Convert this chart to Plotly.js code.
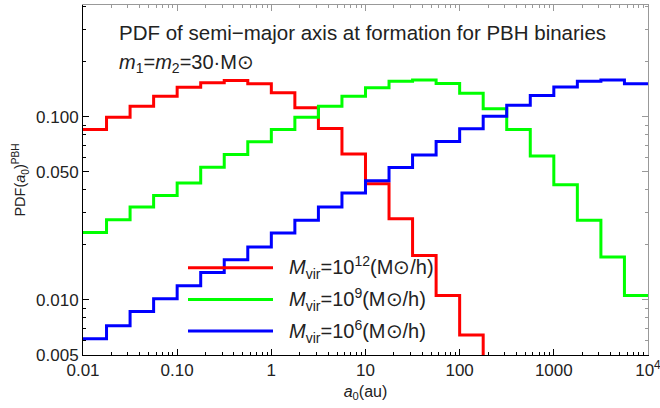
<!DOCTYPE html>
<html>
<head>
<meta charset="utf-8">
<script src="https://cdn.plot.ly/plotly-3.0.1.min.js"></script>
<style>html,body{margin:0;padding:0;background:#fff;}#chart{width:660px;height:408px;}</style>
</head>
<body>
<div id="chart"></div>
<script>
// Bin edges of a0 (au), quarter-decade bins
const binEdges = [0.01, 0.01778, 0.03162, 0.05623, 0.1, 0.1778, 0.3162, 0.5623, 1, 1.778, 3.162, 5.623,
  10, 17.78, 31.62, 56.23, 100, 177.8, 316.2, 562.3, 1000, 1778, 3162, 5623, 10000];

// PDF values per bin
const pdfMvir12 = [0.0852, 0.0995, 0.1143, 0.1296, 0.1452, 0.1535, 0.158, 0.1516, 0.1353, 0.112, 0.0863,
  0.0626, 0.0431, 0.0277, 0.01748, 0.01056, 0.00643, 0.003];
const pdfMvir9 = [0.02336, 0.0274, 0.0322, 0.0372, 0.0435, 0.053, 0.0622, 0.073, 0.0852, 0.0995, 0.1143,
  0.1296, 0.1441, 0.1566, 0.1586, 0.1518, 0.1345, 0.1106, 0.0852, 0.061, 0.0426, 0.0272, 0.01713, 0.01056];
const pdfMvir6 = [0.00614, 0.00721, 0.00863, 0.01013, 0.01193, 0.0141, 0.01655, 0.01943, 0.02318, 0.0272,
  0.0322, 0.0384, 0.0448, 0.0528, 0.0618, 0.0733, 0.0861, 0.1008, 0.1156, 0.1308, 0.1456, 0.1564, 0.1586, 0.1516];

const seriesNames = ['<i>M</i><sub>vir</sub>=10<sup>12</sup>(M⊙/h)',
                     '<i>M</i><sub>vir</sub>=10<sup>9</sup>(M⊙/h)',
                     '<i>M</i><sub>vir</sub>=10<sup>6</sup>(M⊙/h)'];
const seriesColors = ['#ff0000', '#00ff00', '#0000ff'];

const xTickVals = [0.01, 0.1, 1, 10, 100, 1000, 10000];
const xTickText = ['0.01', '0.10', '1', '10', '100', '1000', '10<sup>4</sup>'];
const yTickVals = [0.005, 0.01, 0.05, 0.1];
const yTickText = ['0.005', '0.010', '0.050', '0.100'];

const xMinor = [];
for (let d = -2; d < 4; d++) for (let m = 2; m <= 9; m++) xMinor.push(m * Math.pow(10, d));
const yMinor = [0.006, 0.007, 0.008, 0.009, 0.02, 0.03, 0.04, 0.06, 0.07, 0.08, 0.09, 0.2, 0.3, 0.4];

function stepTrace(vals, color, name) {
  const n = vals.length;
  return {
    x: binEdges.slice(0, n + 1),
    y: vals.concat([vals[n - 1]]),
    type: 'scatter', mode: 'lines', name: name,
    line: {shape: 'hv', color: color, width: 3},
    showlegend: false, hoverinfo: 'x+y'
  };
}

const traces = [
  stepTrace(pdfMvir12, seriesColors[0], seriesNames[0]),
  stepTrace(pdfMvir9, seriesColors[1], seriesNames[1]),
  stepTrace(pdfMvir6, seriesColors[2], seriesNames[2]),
  {x: [null], y: [null], xaxis: 'x2', yaxis: 'y2', type: 'scatter', mode: 'lines', showlegend: false, hoverinfo: 'skip'}
];

const FONT = 'Liberation Sans, Arial, sans-serif';
const xr = [-2, 4.0002];
const yr = [Math.log10(0.005) - 0.0002, Math.log10(0.408)];

const axisCommon = {
  type: 'log', showgrid: false, zeroline: false, showline: true, linewidth: 1,
  ticks: 'inside', ticklen: 6, tickwidth: 1, tickmode: 'array'
};

const layout = {
  width: 660, height: 408,
  margin: {l: 83, r: 12, t: 5, b: 53},
  paper_bgcolor: '#fff', plot_bgcolor: '#fff',
  font: {family: FONT, color: '#222'},
  xaxis: Object.assign({}, axisCommon, {
    range: xr, linecolor: '#000', tickcolor: '#000',
    tickvals: xTickVals, ticktext: xTickText, ticklabeloverflow: 'allow',
    tickfont: {size: 17, color: '#222', family: FONT},
    minor: {tickmode: 'array', tickvals: xMinor, ticks: 'inside', ticklen: 3, tickcolor: '#000'},
    title: {text: '<i>a</i><sub>0</sub>(au)', font: {size: 16, color: '#222', family: FONT}, standoff: 6}
  }),
  yaxis: Object.assign({}, axisCommon, {
    range: yr, linecolor: '#000', tickcolor: '#000',
    tickvals: yTickVals, ticktext: yTickText, ticklabeloverflow: 'allow',
    tickfont: {size: 17, color: '#222', family: FONT},
    minor: {tickmode: 'array', tickvals: yMinor, ticks: 'inside', ticklen: 3, tickcolor: '#000'},
    title: {text: 'PDF(<i>a</i><sub>0</sub>)<sup>PBH</sup>', font: {size: 14.5, color: '#222', family: FONT}, standoff: 6}
  }),
  xaxis2: Object.assign({}, axisCommon, {
    range: xr, overlaying: 'x', side: 'top', anchor: 'y2',
    linecolor: '#999', tickcolor: '#999', showticklabels: false,
    tickvals: xTickVals,
    minor: {tickmode: 'array', tickvals: xMinor, ticks: 'inside', ticklen: 3, tickcolor: '#999'}
  }),
  yaxis2: Object.assign({}, axisCommon, {
    range: yr, overlaying: 'y', side: 'right', anchor: 'x2',
    linecolor: '#999', tickcolor: '#999', showticklabels: false,
    tickvals: yTickVals,
    minor: {tickmode: 'array', tickvals: yMinor, ticks: 'inside', ticklen: 3, tickcolor: '#999'}
  }),
  shapes: [],
  annotations: [
    {xref: 'paper', yref: 'paper', x: 0.061, y: 0.92, xanchor: 'left', yanchor: 'middle', showarrow: false,
     text: 'PDF of semi−major axis at formation for PBH binaries', font: {size: 20.5, color: '#222', family: FONT}},
    {xref: 'paper', yref: 'paper', x: 0.061, y: 0.833, xanchor: 'left', yanchor: 'middle', showarrow: false,
     text: '<i>m</i><sub>1</sub>=<i>m</i><sub>2</sub>=30·M⊙', font: {size: 20, color: '#222', family: FONT}}
  ]
};

// manual legend
const legendRowsY = [267.7, 299.5, 331];
const plotTop = 5, plotH = 350;
for (let i = 0; i < 3; i++) {
  const yp = 1 - (legendRowsY[i] - plotTop) / plotH;
  const x0 = (188 - 83) / 565, x1 = (273 - 83) / 565, xt = (287 - 83) / 565;
  layout.shapes.push({type: 'line', xref: 'paper', yref: 'paper', x0: x0, x1: x1, y0: yp, y1: yp,
    line: {color: seriesColors[i], width: 3}});
  layout.annotations.push({xref: 'paper', yref: 'paper', x: xt, y: yp, xanchor: 'left', yanchor: 'middle',
    showarrow: false, text: seriesNames[i], font: {size: 20, color: '#222', family: FONT}});
}

Plotly.newPlot('chart', traces, layout, {displayModeBar: false, staticPlot: true});
</script>
</body>
</html>
